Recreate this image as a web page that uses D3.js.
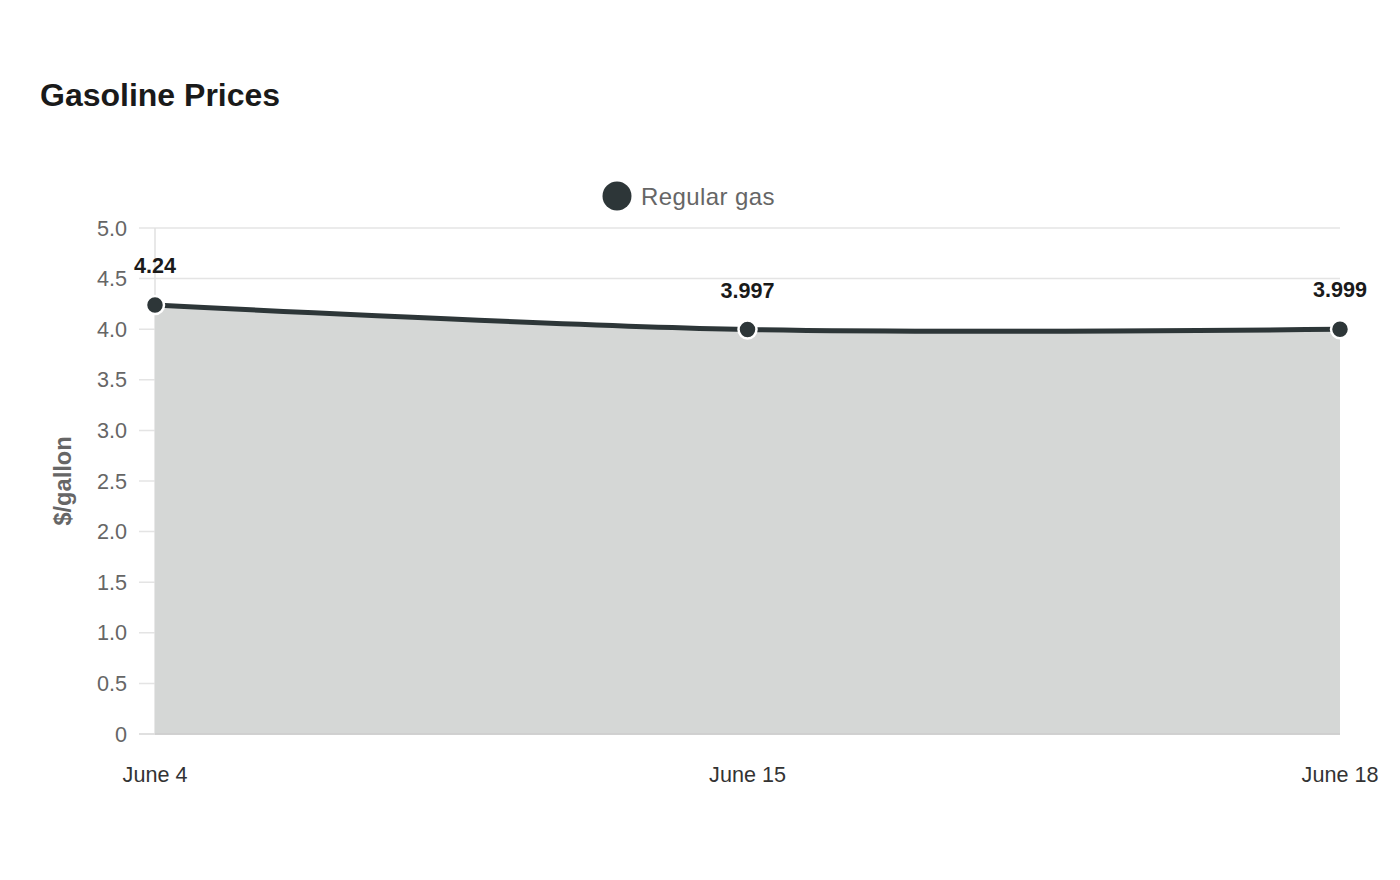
<!DOCTYPE html>
<html><head><meta charset="utf-8">
<script src="https://cdn.jsdelivr.net/npm/d3@7"></script>
<style>body{margin:0;background:#fff;} svg{font-family:"Liberation Sans",Arimo,Arial,sans-serif;}</style>
</head><body>
<svg id="c" width="1400" height="880"></svg>
<script>
const categories = ["June 4", "June 15", "June 18"];
const regularGas = [4.24, 3.997, 3.999];
const yTicks = [0, 0.5, 1.0, 1.5, 2.0, 2.5, 3.0, 3.5, 4.0, 4.5, 5.0];
const seriesName = "Regular gas";

(function () {
const svg = d3.select("#c");
const pL = 155, pR = 1340, pT = 228, pB = 734;
const x = d3.scalePoint().domain(categories).range([pL, pR]);
const y = d3.scaleLinear().domain([0, 5]).range([pB, pT]);

svg.append("text").attr("x", 40).attr("y", 106).attr("font-size", 32).attr("font-weight", "bold").attr("fill", "#1a1a1a").text("Gasoline Prices");

// legend
svg.append("circle").attr("cx", 617).attr("cy", 196).attr("r", 14.5).attr("fill", "#2d3638");
svg.append("text").attr("x", 641).attr("y", 205).attr("font-size", 24).attr("fill", "#666").attr("letter-spacing", 0.4).text(seriesName);

// grid
const g = svg.append("g");
yTicks.forEach(t => {
  g.append("line").attr("x1", 139).attr("x2", pR).attr("y1", y(t)).attr("y2", y(t))
    .attr("stroke", t === 0 ? "#d6d6d6" : "#e4e4e4").attr("stroke-width", 1.5);
  g.append("text").attr("x", 127).attr("y", y(t) + 7.5).attr("text-anchor", "end").attr("font-size", 21.6).attr("fill", "#666")
    .text(t === 0 ? "0" : d3.format(".1f")(t));
});
g.append("line").attr("x1", pL).attr("x2", pL).attr("y1", pT).attr("y2", pB).attr("stroke", "#e0e0e0").attr("stroke-width", 1.5);

svg.append("text").attr("transform", `translate(71,481) rotate(-90)`).attr("text-anchor", "middle")
  .attr("font-size", 23.6).attr("font-weight", "bold").attr("fill", "#666").text("$/gallon");

const data = categories.map((c, i) => ({c, v: regularGas[i]}));
const curve = d3.curveCatmullRom;
const area = d3.area().x(d => x(d.c)).y0(pB).y1(d => y(d.v)).curve(curve);
svg.append("path").datum(data).attr("d", area).attr("fill", "#d5d7d6");
svg.append("line").attr("x1", pL).attr("x2", pR).attr("y1", pB).attr("y2", pB).attr("stroke", "#cccccc").attr("stroke-width", 1.5);

const line = d3.line().x(d => x(d.c)).y(d => y(d.v)).curve(curve);
svg.append("path").datum(data).attr("d", line).attr("fill", "none").attr("stroke", "#2d3638").attr("stroke-width", 5);

svg.selectAll(".pt").data(data).join("circle").attr("cx", d => x(d.c)).attr("cy", d => y(d.v))
  .attr("r", 9).attr("fill", "#2d3638").attr("stroke", "#fff").attr("stroke-width", 2.5);

svg.selectAll(".lbl").data(data).join("text").attr("x", d => x(d.c)).attr("y", d => y(d.v) - 32)
  .attr("text-anchor", "middle").attr("font-size", 21.6).attr("font-weight", "bold").attr("fill", "#1a1a1a")
  .text(d => String(d.v));

svg.selectAll(".xl").data(categories).join("text").attr("x", d => x(d)).attr("y", 782)
  .attr("text-anchor", "middle").attr("font-size", 21.6).attr("fill", "#333").text(d => d);
})();
</script>
</body></html>
